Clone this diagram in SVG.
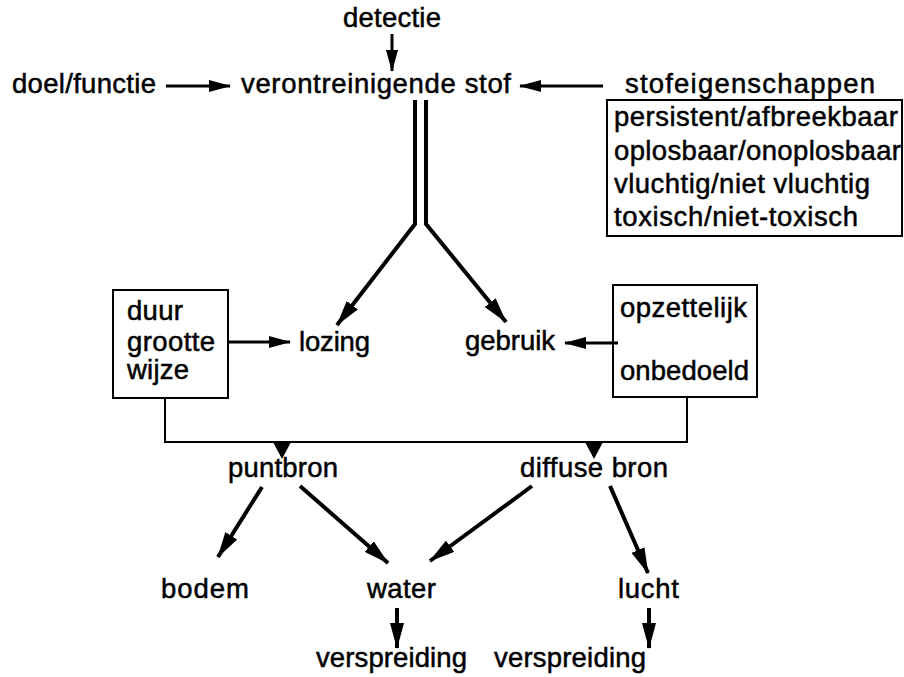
<svg xmlns="http://www.w3.org/2000/svg" width="904" height="677" viewBox="0 0 904 677">
<defs>
<style>
text{font-family:"Liberation Sans",Arial,sans-serif;font-size:27.5px;fill:#000;stroke:#000;stroke-width:0.5}
.ln{fill:none;stroke:#000;stroke-width:3}
.th{fill:none;stroke:#000;stroke-width:4}
.box{fill:none;stroke:#000;stroke-width:2}
</style>
<marker id="ah" markerUnits="userSpaceOnUse" viewBox="0 0 22 12" refX="21" refY="6" markerWidth="22" markerHeight="12" orient="auto">
<path d="M0,0 L22,6 L0,12 z" fill="#000"/>
</marker>
<marker id="ahb" markerUnits="userSpaceOnUse" viewBox="0 0 26 14" refX="25" refY="7" markerWidth="26" markerHeight="14" orient="auto">
<path d="M0,0 L26,7 L0,14 z" fill="#000"/>
</marker>
</defs>
<rect width="904" height="677" fill="#fff"/>
<g id="connectors">
<line class="ln" x1="392" y1="34" x2="392" y2="71" marker-end="url(#ah)"/>
<line class="ln" x1="166" y1="86" x2="230" y2="86" marker-end="url(#ah)"/>
<line class="ln" x1="603" y1="86" x2="520" y2="86" marker-end="url(#ah)"/>
<path class="th" d="M415,100 V224 L337,325" marker-end="url(#ahb)"/>
<path class="th" d="M426,100 V224 L506,322" marker-end="url(#ahb)"/>
<line class="ln" x1="228" y1="342" x2="290" y2="342" marker-end="url(#ah)"/>
<line class="ln" x1="618" y1="343" x2="565" y2="343" marker-end="url(#ah)"/>
<path class="box" d="M165,398 V442 H687 V397"/>
<polygon points="273,442 291,442 282,459" fill="#000"/>
<polygon points="585,442 603,442 594,459" fill="#000"/>
<line class="th" x1="262" y1="487" x2="218" y2="557" marker-end="url(#ahb)"/>
<line class="th" x1="300" y1="486" x2="388" y2="563" marker-end="url(#ahb)"/>
<line class="th" x1="532" y1="486" x2="430" y2="561" marker-end="url(#ahb)"/>
<line class="th" x1="610" y1="486" x2="648" y2="573" marker-end="url(#ahb)"/>
<line class="th" x1="397" y1="608" x2="397" y2="648" marker-end="url(#ahb)"/>
<line class="th" x1="649" y1="608" x2="649" y2="648" marker-end="url(#ahb)"/>
</g>
<g id="detectie"><text x="343" y="27" textLength="98">detectie</text></g>
<g id="doel"><text x="12" y="93" textLength="144">doel/functie</text></g>
<g id="stof"><text x="241" y="93" textLength="270">verontreinigende stof</text></g>
<g id="stofeigenschappen">
<text x="625" y="93" textLength="250">stofeigenschappen</text>
<rect class="box" x="607" y="100" width="295" height="136"/>
<text x="614" y="126" textLength="284">persistent/afbreekbaar</text>
<text x="614" y="160" textLength="287">oplosbaar/onoplosbaar</text>
<text x="614" y="193" textLength="256">vluchtig/niet vluchtig</text>
<text x="614" y="226" textLength="244">toxisch/niet-toxisch</text>
</g>
<g id="lozing-factoren">
<rect class="box" x="113" y="290" width="115" height="108"/>
<text x="127" y="320" textLength="56">duur</text>
<text x="127" y="351" textLength="88">grootte</text>
<text x="127" y="379" textLength="62">wijze</text>
</g>
<g id="lozing"><text x="299" y="351" textLength="71">lozing</text></g>
<g id="gebruik"><text x="465" y="350" textLength="90">gebruik</text></g>
<g id="gebruik-factoren">
<rect class="box" x="613" y="285" width="144" height="112"/>
<text x="620" y="317" textLength="127">opzettelijk</text>
<text x="620" y="380" textLength="129">onbedoeld</text>
</g>
<g id="puntbron"><text x="228" y="477" textLength="110">puntbron</text></g>
<g id="diffuse"><text x="520" y="477" textLength="148">diffuse bron</text></g>
<g id="bodem"><text x="161" y="598" textLength="88">bodem</text></g>
<g id="water"><text x="367" y="598" textLength="69">water</text></g>
<g id="lucht"><text x="618" y="598" textLength="61">lucht</text></g>
<g id="verspreiding1"><text x="316" y="667" textLength="151">verspreiding</text></g>
<g id="verspreiding2"><text x="494" y="667" textLength="152">verspreiding</text></g>
</svg>
